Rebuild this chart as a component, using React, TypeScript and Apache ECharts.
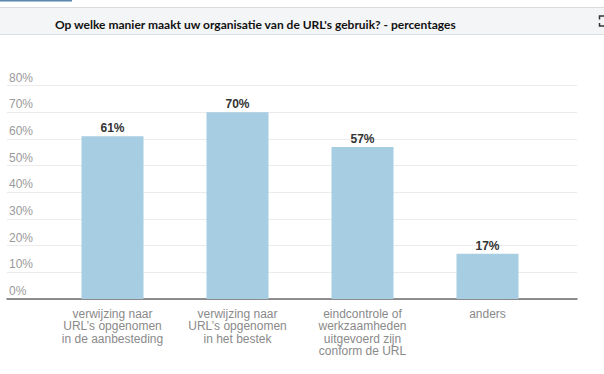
import React, { useEffect, useRef } from "react";
import * as echarts from "echarts";

const titleText = "Op welke manier maakt uw organisatie van de URL's gebruik? - percentages";
const categories = [
  "verwijzing naar\nURL’s opgenomen\nin de aanbesteding",
  "verwijzing naar\nURL’s opgenomen\nin het bestek",
  "eindcontrole of\nwerkzaamheden\nuitgevoerd zijn\nconform de URL",
  "anders",
];
const values = [61, 70, 57, 17];
const yMin = 0;
const yMax = 80;
const yStep = 10;

const ARIAL = "'Liberation Sans', Arial, sans-serif";

export default function App() {
  const ref = useRef<HTMLDivElement>(null);
  useEffect(() => {
    if (!ref.current) return;
    const chart = echarts.init(ref.current, null, { renderer: "svg" });
    const top = 85.7;
    const bottom = 75;
    chart.setOption({
      animation: false,
      backgroundColor: "#ffffff",
      title: {
        text: titleText,
        left: 50,
        top: 13,
        textStyle: {
          fontFamily: "Lato",
          fontWeight: "bold",
          fontSize: 12,
          color: "#111111",
        },
      },
      graphic: [
        { type: "rect", z: -1, shape: { x: 0, y: 7, width: 604, height: 27 }, style: { fill: "#f4f5f6" } },
        { type: "line", shape: { x1: 0, y1: 7.5, x2: 604, y2: 7.5 }, style: { stroke: "#d9dcdf", lineWidth: 1 } },
        { type: "line", shape: { x1: 0, y1: 34.5, x2: 604, y2: 34.5 }, style: { stroke: "#dcdfe2", lineWidth: 1 } },
        { type: "rect", shape: { x: 0, y: 0, width: 72, height: 1.5 }, style: { fill: "#5b86ad" } },
        { type: "polyline", shape: { points: [[604, 16], [599.5, 16], [599.5, 19.5]] }, style: { stroke: "#333", lineWidth: 1.5, fill: null } },
        { type: "polyline", shape: { points: [[599.5, 23], [599.5, 26], [604, 26]] }, style: { stroke: "#333", lineWidth: 1.5, fill: null } },
      ],
      grid: [
        { left: 7, right: 27, top, bottom },
        { left: 50, right: 54, top, bottom },
      ],
      xAxis: [
        {
          gridIndex: 0,
          type: "value",
          min: 0,
          max: 1,
          axisLine: { show: true, lineStyle: { color: "#6b6b6b", width: 1.5 } },
          axisTick: { show: false },
          axisLabel: { show: false },
          splitLine: { show: false },
        },
        {
          gridIndex: 1,
          type: "category",
          data: categories,
          axisLine: { show: false },
          axisTick: { show: false },
          axisLabel: {
            interval: 0,
            margin: 8.5,
            color: "#8a8a8a",
            fontSize: 12,
            lineHeight: 12.5,
            fontFamily: ARIAL,
          },
        },
      ],
      yAxis: [
        {
          gridIndex: 0,
          type: "value",
          min: yMin,
          max: yMax,
          interval: yStep,
          axisLine: { show: false },
          axisTick: { show: false },
          splitLine: { lineStyle: { color: "#ebebeb", width: 1 } },
          axisLabel: {
            inside: true,
            margin: 2,
            align: "left",
            verticalAlign: "bottom",
            padding: [0, 0, 2, 0],
            color: "#9a9a9a",
            fontSize: 12,
            fontFamily: ARIAL,
            formatter: "{value}%",
          },
        },
        {
          gridIndex: 1,
          type: "value",
          min: yMin,
          max: yMax,
          interval: yStep,
          show: false,
        },
      ],
      series: [
        {
          type: "bar",
          xAxisIndex: 1,
          yAxisIndex: 1,
          data: values,
          barWidth: 62,
          itemStyle: { color: "#a6cde2" },
          label: {
            show: true,
            position: "top",
            distance: 2,
            formatter: "{c}%",
            color: "#333333",
            fontWeight: "bold",
            fontSize: 12,
            fontFamily: ARIAL,
          },
        },
      ],
    });
    return () => chart.dispose();
  }, []);
  return (
    <div
      ref={ref}
      style={{ position: "fixed", left: 0, top: 0, width: 604, height: 374 }}
    />
  );
}
